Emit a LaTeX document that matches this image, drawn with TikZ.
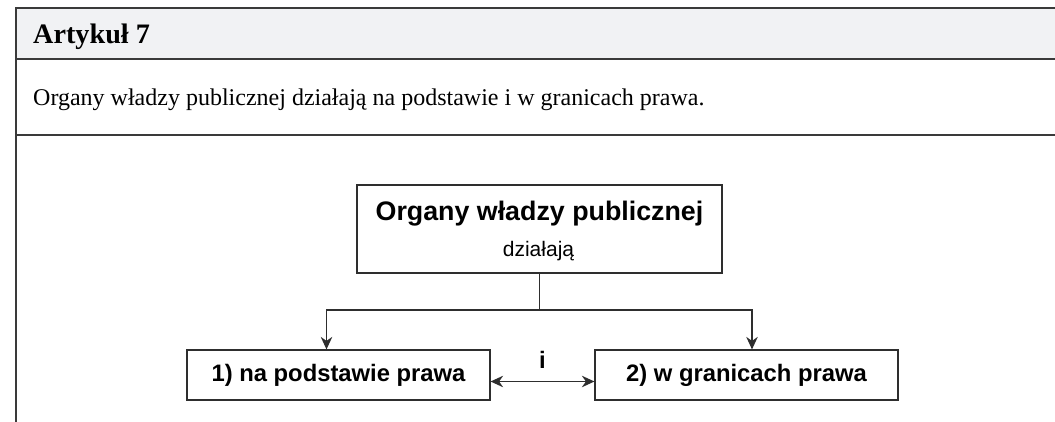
\documentclass[tikz,border=0pt]{standalone}
\usepackage{fontspec}
\setmainfont{Liberation Serif}
\newfontfamily\diagfont{Liberation Sans}
\usetikzlibrary{arrows.meta}
\definecolor{headbg}{HTML}{F1F2F4}
\definecolor{framecol}{HTML}{3A3A3A}
\definecolor{linecol}{HTML}{2E2E2E}
\tikzset{
  frameline/.style={draw=framecol, line width=2pt},
  boxstyle/.style={draw=linecol, line width=1.2pt, fill=white, inner sep=0pt},
  conn/.style={draw=linecol, line width=1.2pt},
  tip/.style={-{Stealth[length=12.5pt,width=11.5pt,inset=4pt]}},
  dtip/.style={{Stealth[length=12.5pt,width=11.5pt,inset=4pt]}-{Stealth[length=12.5pt,width=11.5pt,inset=4pt]}},
}
\begin{document}
\begin{tikzpicture}[x=1pt,y=-1pt]
\useasboundingbox (0,0) rectangle (1055,422);
% frame
\fill[headbg] (16,8) rectangle (1055,59);
\draw[frameline] (1055,8) -- (16,8) -- (16,422);
\draw[frameline] (16,59) -- (1055,59);
\draw[frameline] (16,135) -- (1055,135);
\node[anchor=base west, inner sep=0pt, font=\fontsize{28.2}{31}\selectfont\bfseries] (title) at (33,44) {Artykuł 7};
\node[anchor=base west, inner sep=0pt, font=\fontsize{24}{28}\selectfont] (body) at (33,106) {Organy władzy publicznej działają na podstawie i w granicach prawa.};
% diagram
\node[boxstyle, minimum width=365pt, minimum height=88pt] (top) at (539.5,229) {};
\node[inner sep=0pt, anchor=base, font=\diagfont\fontsize{26.8}{30}\selectfont\bfseries] (toptitle) at (539.5,221) {Organy władzy publicznej};
\node[inner sep=0pt, anchor=base, font=\diagfont\fontsize{21}{23}\selectfont] (topsub) at (538.5,256.5) {działają};
\node[boxstyle, minimum width=303pt, minimum height=50pt, font=\diagfont\fontsize{23.8}{26}\selectfont\bfseries] (left) at (338.5,375) {1) na podstawie prawa};
\node[boxstyle, minimum width=303pt, minimum height=50pt, font=\diagfont\fontsize{23.8}{26}\selectfont\bfseries] (right) at (746.5,375) {2) w granicach prawa};
\coordinate (junc) at (539.5,310);
\draw[conn] (top.south) -- (junc);
\draw[conn, tip] (junc) -| ([xshift=-12pt]left.north);
\draw[conn, tip] (junc) -| ([xshift=5.5pt]right.north);
\draw[conn, dtip] ([yshift=-6.5pt]left.east) -- ([yshift=-6.5pt]right.west);
\node[inner sep=0pt, font=\diagfont\fontsize{23.8}{26}\selectfont\bfseries] (ilabel) at (542.5,360) {i};
\end{tikzpicture}
\end{document}
